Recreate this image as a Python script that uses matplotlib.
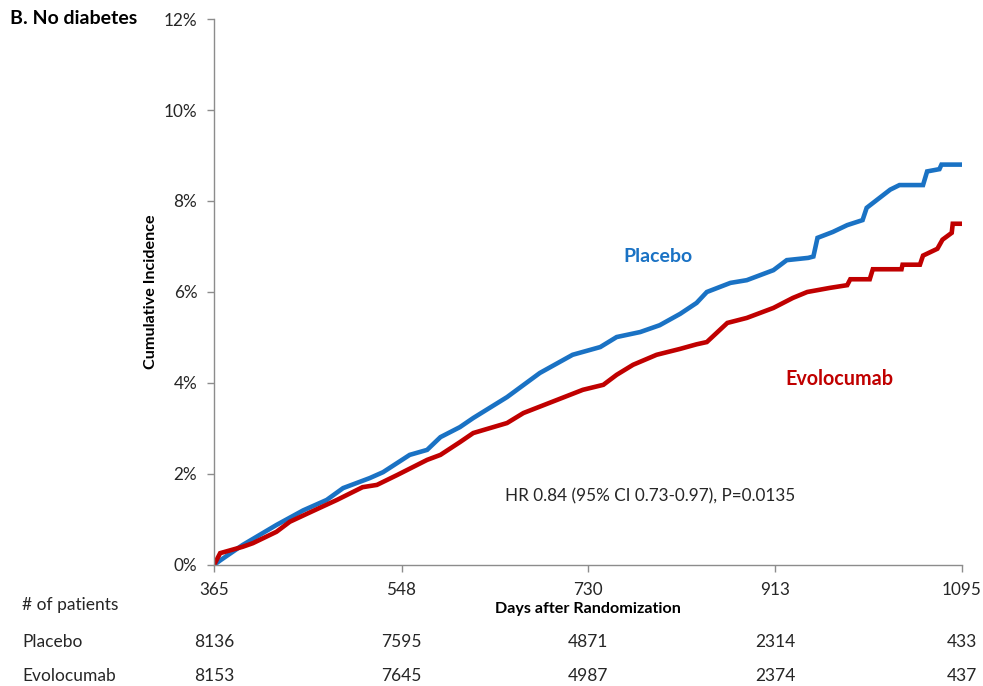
import matplotlib
matplotlib.use("Agg")
import matplotlib.pyplot as plt
from matplotlib.ticker import FuncFormatter

plt.rcParams['font.family'] = ['Lato', 'DejaVu Sans']

# Cumulative incidence (%) against days after randomization
placebo_days = [365, 371, 393, 426, 452, 475, 491, 517, 530, 556, 573, 586, 605, 618, 651,
                683, 715, 742, 758, 781, 800, 820, 836, 846, 869, 885, 911, 924, 945, 950,
                954, 969, 983, 998, 1002, 1025, 1034, 1057, 1061, 1073, 1075, 1095]
placebo_pct = [0.0, 0.1, 0.44, 0.88, 1.2, 1.43, 1.69, 1.91, 2.04, 2.42, 2.53, 2.81, 3.03, 3.23, 3.69,
               4.22, 4.62, 4.79, 5.01, 5.12, 5.27, 5.52, 5.76, 6.0, 6.2, 6.26, 6.48, 6.7, 6.75, 6.78,
               7.19, 7.32, 7.47, 7.58, 7.85, 8.25, 8.35, 8.35, 8.65, 8.7, 8.8, 8.8]

evolocumab_days = [365, 371, 393, 403, 426, 439, 459, 485, 510, 524, 544, 573, 586, 605, 618,
                   651, 667, 700, 725, 745, 758, 774, 797, 820, 836, 846, 866, 885, 911, 930,
                   944, 966, 983, 986, 1005, 1008, 1036, 1037, 1054, 1057, 1071, 1076, 1085,
                   1086, 1095]
evolocumab_pct = [0.0, 0.26, 0.4, 0.48, 0.73, 0.95, 1.16, 1.43, 1.71, 1.76, 1.98, 2.31, 2.42, 2.7, 2.9,
                  3.12, 3.34, 3.63, 3.85, 3.96, 4.18, 4.4, 4.62, 4.75, 4.85, 4.9, 5.32, 5.43, 5.65, 5.87,
                  6.0, 6.09, 6.15, 6.28, 6.28, 6.5, 6.5, 6.6, 6.6, 6.8, 6.95, 7.15, 7.3,
                  7.5, 7.5]

x_ticks = [365, 548, 730, 913, 1095]
y_ticks = [0, 2, 4, 6, 8, 10, 12]
placebo_at_risk = [8136, 7595, 4871, 2314, 433]
evolocumab_at_risk = [8153, 7645, 4987, 2374, 437]

blue = '#1a72c4'
red = '#C00000'
grey = '#8C8C8C'
text_col = '#262626'

fig = plt.figure(figsize=(9.83, 6.86), dpi=100)
ax = fig.add_axes([0.2177, 0.1764, 0.9786 - 0.2177, 0.9723 - 0.1764])

ax.plot(placebo_days, placebo_pct, color=blue, lw=3.3, solid_joinstyle='miter')
ax.plot(evolocumab_days, evolocumab_pct, color=red, lw=3.3, solid_joinstyle='miter')

ax.set_xlim(365, 1095)
ax.set_ylim(0, 12)
ax.set_xticks(x_ticks)
ax.set_yticks(y_ticks)
ax.yaxis.set_major_formatter(FuncFormatter(lambda v, p: f"{int(v)}%"))
for s in ['top', 'right']:
    ax.spines[s].set_visible(False)
for s in ['left', 'bottom']:
    ax.spines[s].set_color(grey)
    ax.spines[s].set_linewidth(1.0)
ax.tick_params(axis='both', colors=grey, length=5, width=1.0, labelcolor=text_col, labelsize=12.3)
ax.tick_params(axis='x', pad=7)
ax.tick_params(axis='y', pad=7)

ax.set_ylabel('Cumulative Incidence', fontsize=11.6, fontweight='bold', color='black', labelpad=4)
ax.set_xlabel('Days after Randomization', fontsize=11.6, fontweight='bold', color='black', labelpad=3)

ax.text(0.594, 0.565, 'Placebo', transform=ax.transAxes, color=blue, fontsize=14,
        fontweight='bold', ha='center', va='center')
ax.text(0.836, 0.34, 'Evolocumab', transform=ax.transAxes, color=red, fontsize=14.2,
        fontweight='bold', ha='center', va='center')
ax.text(0.583, 0.125, 'HR 0.84 (95% CI 0.73-0.97), P=0.0135', transform=ax.transAxes,
        color=text_col, fontsize=12.3, ha='center', va='center')

fig.text(10 / 983, 1 - 18 / 686, 'B. No diabetes', fontsize=14, fontweight='bold',
         ha='left', va='center', color='black')

# number-at-risk table under the axis
row_fs = 12.5
fig.text(22 / 983, 1 - 605 / 686, '# of patients', fontsize=row_fs, ha='left', va='center', color=text_col)
fig.text(22 / 983, 1 - 642 / 686, 'Placebo', fontsize=row_fs, ha='left', va='center', color=text_col)
fig.text(22 / 983, 1 - 676 / 686, 'Evolocumab', fontsize=row_fs, ha='left', va='center', color=text_col)
for d, n_p, n_e in zip(x_ticks, placebo_at_risk, evolocumab_at_risk):
    xf = ax.transData.transform((d, 0))[0] / fig.bbox.width
    fig.text(xf, 1 - 642 / 686, str(n_p), fontsize=row_fs, ha='center', va='center', color=text_col)
    fig.text(xf, 1 - 676 / 686, str(n_e), fontsize=row_fs, ha='center', va='center', color=text_col)

fig.savefig('out.png', dpi=100, facecolor='white')
